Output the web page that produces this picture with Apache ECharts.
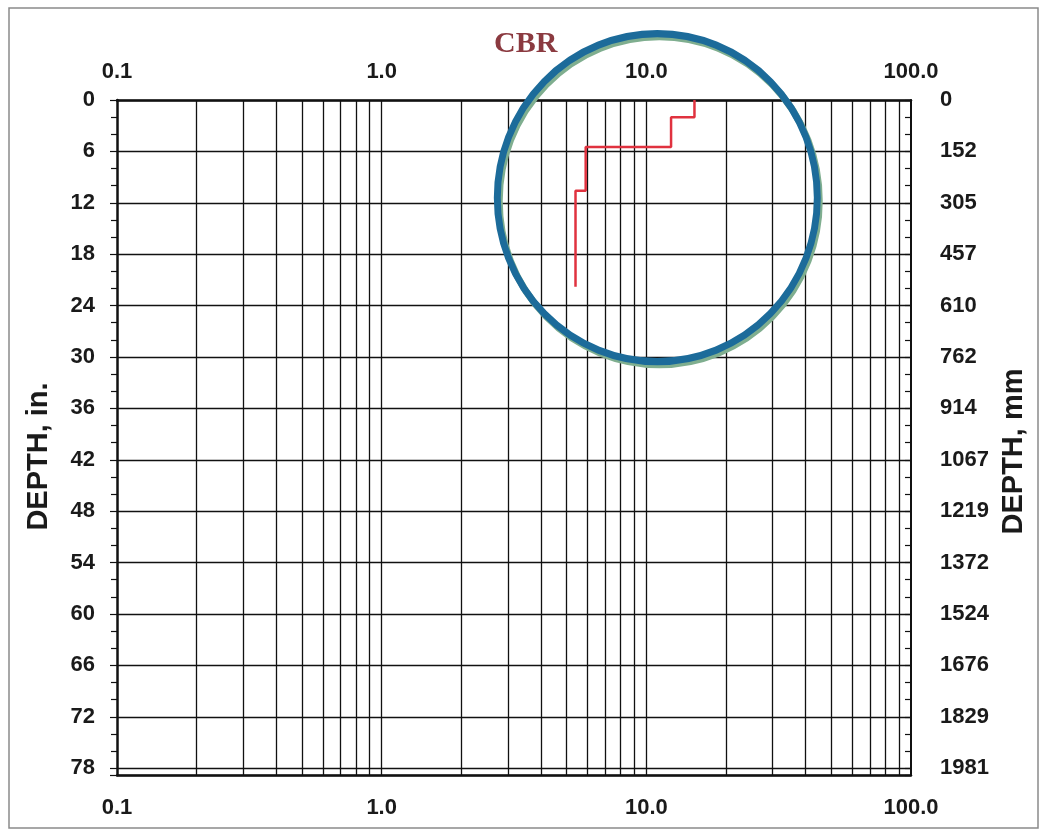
<!DOCTYPE html>
<html>
<head>
<meta charset="utf-8">
<script src="https://cdn.jsdelivr.net/npm/echarts@6/dist/echarts.min.js"></script>
<style>
html,body{margin:0;padding:0;background:#fff;}
#chart{width:1041px;height:832px;}
</style>
</head>
<body>
<div id="chart"></div>
<script>
// ---- data ----
const layerTop    = [0, 2.0, 5.5, 10.6];
const layerBottom = [2.0, 5.5, 10.6, 21.8];
const layerCBR    = [15.2, 12.4, 5.9, 5.4];

const depthTicksIn = [0, 6, 12, 18, 24, 30, 36, 42, 48, 54, 60, 66, 72, 78];
const depthTicksMm = ['0', '152', '305', '457', '610', '762', '914', '1067', '1219', '1372', '1524', '1676', '1829', '1981'];
const cbrGridLines = [0.2,0.3,0.4,0.5,0.6,0.7,0.8,0.9,1,2,3,4,5,6,7,8,9,10,20,30,40,50,60,70,80,90];
const highlightCenter = [11.0, 11.4];

// build step profile vertices from layers
const profile = [];
for (let i = 0; i < layerCBR.length; i++) {
  profile.push([layerCBR[i], layerTop[i]]);
  profile.push([layerCBR[i], layerBottom[i]]);
}

const chart = echarts.init(document.getElementById('chart'), null, {renderer: 'canvas'});
const lab = {fontFamily: 'Liberation Sans, Arial, sans-serif', fontWeight: 'bold', fontSize: 22, color: '#1a1a1a'};
const nameFont = {fontFamily: 'Liberation Sans, Arial, sans-serif', fontWeight: 'bold', fontSize: 29, color: '#1a1a1a'};

function xAxisCfg(pos, margin) {
  return {
    type: 'log', logBase: 10, min: 0.1, max: 100, position: pos,
    axisLine: {show: true, onZero: false, lineStyle: {color: '#111', width: 2.5}},
    axisTick: {show: false},
    splitLine: {show: false},
    axisLabel: Object.assign({margin: margin, formatter: v => Number(v).toFixed(1)}, lab)
  };
}
function mmLabel(v) {
  const i = depthTicksIn.indexOf(Math.round(v * 1000) / 1000);
  return i >= 0 ? depthTicksMm[i] : '';
}
function inLabel(v) {
  return depthTicksIn.indexOf(Math.round(v * 1000) / 1000) >= 0 ? String(v) : '';
}

chart.setOption({
  animation: false,
  title: {
    text: 'CBR', left: 489, top: 24,
    textStyle: {fontFamily: 'Liberation Serif, Times New Roman, serif', fontWeight: 'bold', fontSize: 30, color: '#8b3a40'}
  },
  graphic: [{
    type: 'rect', shape: {x: 9, y: 8, width: 1029, height: 820},
    style: {fill: 'none', stroke: '#8a8a8a', lineWidth: 1.5}, silent: true, z: -10
  }],
  grid: {left: 117, right: 130, top: 100, bottom: 57, containLabel: false},
  xAxis: [xAxisCfg('top', 17), xAxisCfg('bottom', 22)],
  yAxis: [{
    type: 'value', inverse: true, min: 0, max: 78.8, interval: 6, position: 'left',
    name: 'DEPTH, in.', nameLocation: 'middle', nameGap: 64,
    nameTextStyle: Object.assign({padding: [0, 38, 0, 0]}, nameFont),
    axisLine: {show: true, lineStyle: {color: '#111', width: 2.5}},
    axisTick: {show: true, inside: false, length: 7, lineStyle: {color: '#111', width: 1.2}},
    minorTick: {show: true, splitNumber: 3, length: 6, lineStyle: {color: '#111', width: 1.2}},
    splitLine: {show: true, lineStyle: {color: '#111', width: 1.3}},
    axisLabel: Object.assign({margin: 22, formatter: inLabel, showMaxLabel: false}, lab)
  }, {
    type: 'value', inverse: true, min: 0, max: 78.8, interval: 6, position: 'right',
    name: 'DEPTH, mm', nameLocation: 'middle', nameGap: 86, nameRotate: 90,
    nameTextStyle: Object.assign({padding: [0, 28, 0, 0]}, nameFont),
    axisLine: {show: true, lineStyle: {color: '#111', width: 2}},
    axisTick: {show: true, inside: true, length: 6, lineStyle: {color: '#111', width: 1.2}},
    minorTick: {show: true, splitNumber: 3, length: 6, lineStyle: {color: '#111', width: 1.2}},
    splitLine: {show: false},
    axisLabel: Object.assign({margin: 29, formatter: mmLabel, showMaxLabel: false}, lab)
  }],
  series: [{
    type: 'line', xAxisIndex: 1, yAxisIndex: 0, data: [], silent: true,
    markLine: {
      silent: true, symbol: ['none', 'none'], animation: false,
      label: {show: false},
      lineStyle: {color: '#111', width: 1.3, type: 'solid'},
      emphasis: {disabled: true},
      data: cbrGridLines.map(v => ({xAxis: v}))
    }
  }, {
    type: 'line', xAxisIndex: 1, yAxisIndex: 0, data: profile,
    showSymbol: false, symbol: 'none', silent: true, z: 5,
    lineStyle: {color: '#e0323f', width: 2.5}
  }, {
    type: 'scatter', xAxisIndex: 1, yAxisIndex: 0, data: [highlightCenter],
    symbol: 'circle', symbolSize: [320, 328], clip: false, silent: true, z: 6,
    itemStyle: {
      color: 'rgba(0,0,0,0)', borderColor: '#1c6b9a', borderWidth: 7, opacity: 1,
      shadowColor: '#7fae8f', shadowBlur: 0, shadowOffsetX: 2, shadowOffsetY: 3
    }
  }]
});
</script>
</body>
</html>
